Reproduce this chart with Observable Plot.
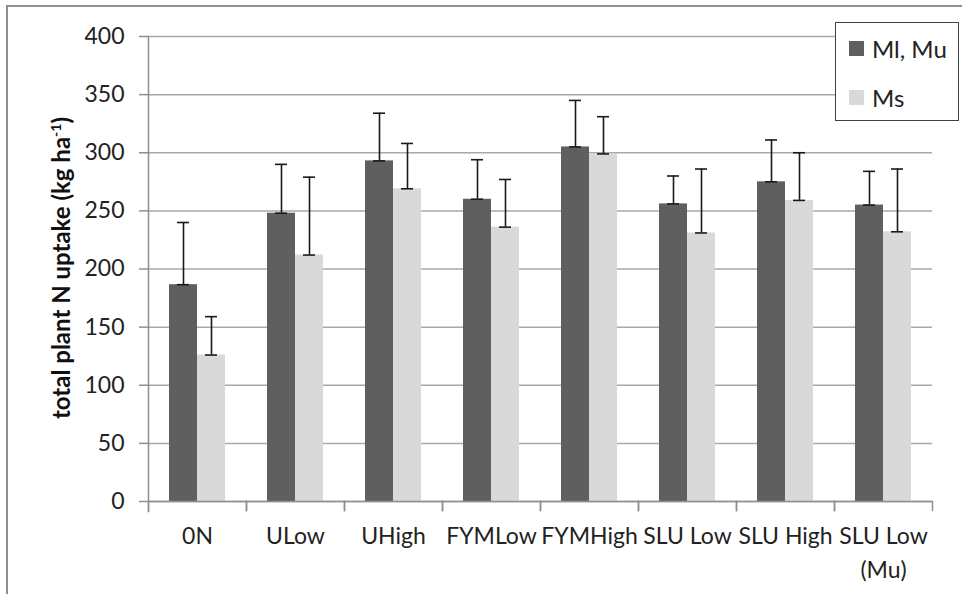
<!DOCTYPE html>
<html>
<head>
<meta charset="utf-8">
<script src="https://cdn.jsdelivr.net/npm/d3@7"></script>
<script src="https://cdn.jsdelivr.net/npm/@observablehq/plot@0.6"></script>
<style>
  body { margin: 0; background: #fff; }
  #wrap { position: relative; width: 962px; height: 594px; overflow: hidden; font-family: Lato, "Open Sans", sans-serif; background: #fff; }
  #border { position: absolute; left: 6px; top: 5px; width: 980px; height: 620px; border-left: 2px solid #8f8f8f; border-top: 2px solid #8f8f8f; pointer-events: none; }
  #chart { position: absolute; left: 0; top: 0; }
  #ylabel { position: absolute; left: 60px; top: 268px; transform: translate(-50%, -50%) rotate(-90deg); white-space: nowrap; font-weight: bold; font-size: 24px; color: #111; }
  #ylabel sup { font-size: 14px; vertical-align: 9px; }
  #legend { position: absolute; left: 835px; top: 22px; width: 122px; height: 97px; border: 1px solid #404040; background: #fff; }
  .item { position: absolute; left: 13px; display: flex; align-items: center; font-size: 24px; color: #222; }
  .sw { width: 15px; height: 15px; margin-right: 8px; }
</style>
</head>
<body>
<div id="wrap">
  <div id="chart"></div>
  <div id="border"></div>
  <div id="ylabel">total plant N uptake (kg ha<sup>-1</sup>)</div>
  <div id="legend"></div>
</div>
<script>
const categories = ["0N", "ULow", "UHigh", "FYMLow", "FYMHigh", "SLU Low", "SLU High", "SLU Low (Mu)"];
const tickLabels = ["0N", "ULow", "UHigh", "FYMLow", "FYMHigh", "SLU Low", "SLU High", "SLU Low\n(Mu)"];
const seriesNames = ["Ml, Mu", "Ms"];
const mlmuValues = [186.5, 248, 293, 260, 305, 256, 275, 255];
const mlmuErrors = [53.5, 42, 41, 34, 40, 24, 36, 29];
const msValues = [126, 212, 269, 236, 299, 231, 259, 232];
const msErrors = [33, 67, 39, 41, 32, 55, 41, 54];
const yTicks = [0, 50, 100, 150, 200, 250, 300, 350, 400];
const seriesColors = ["#5f5f5f", "#d9d9d9"];

const rows = categories.flatMap((c, i) => [
  {cat: c, series: seriesNames[0], value: mlmuValues[i], err: mlmuErrors[i]},
  {cat: c, series: seriesNames[1], value: msValues[i], err: msErrors[i]}
]);

const W = 962, H = 594, mL = 147, mR = 29, mT = 36, mB = 93;
const innerH = H - mT - mB;
const labelMap = new Map(categories.map((c, i) => [c, tickLabels[i]]));

const chart = Plot.plot({
  width: W, height: H,
  marginLeft: mL, marginRight: mR, marginTop: mT, marginBottom: mB,
  style: {fontFamily: "Lato, 'Open Sans', sans-serif", background: "transparent"},
  fx: {domain: categories, padding: 0, label: null, axis: null},
  x: {domain: seriesNames, paddingInner: 0, paddingOuter: 0.75, axis: null},
  y: {domain: [0, 400], label: null, axis: null},
  color: {domain: seriesNames, range: seriesColors},
  marks: [
    Plot.gridY(yTicks, {stroke: "#a8a8a8", strokeOpacity: 1, strokeWidth: 1.5}),
    Plot.barY(rows, {fx: "cat", x: "series", y: "value", fill: "series"}),
    Plot.ruleX(rows, {fx: "cat", x: "series", y1: "value", y2: d => d.value + d.err, stroke: "#1a1a1a", strokeWidth: 1.6}),
    Plot.tickY(rows, {fx: "cat", x: "series", y: d => d.value + d.err, stroke: "#1a1a1a", strokeWidth: 1.6, insetLeft: 8, insetRight: 8}),
    Plot.tickY(rows, {fx: "cat", x: "series", y: "value", stroke: "#1a1a1a", strokeWidth: 1.6, insetLeft: 8, insetRight: 8}),
    Plot.ruleY([0], {stroke: "#8f8f8f", strokeWidth: 1.5}),
    Plot.frame({anchor: "left", facetAnchor: "left", stroke: "#8f8f8f", strokeWidth: 1.5, insetBottom: -10}),
    Plot.frame({anchor: "left", stroke: "#8f8f8f", strokeWidth: 1.5, insetTop: innerH, insetBottom: -9}),
    Plot.frame({anchor: "right", stroke: "#8f8f8f", strokeWidth: 1.5, insetTop: innerH, insetBottom: -9}),
    Plot.axisY(yTicks, {anchor: "left", tickSize: 9, tickPadding: 15, fontSize: 23, stroke: "#8f8f8f", strokeWidth: 1.5, fill: "#222", label: null}),
    Plot.axisFx({anchor: "bottom", tickSize: 0, tickPadding: 19, fontSize: 23, fill: "#222", lineHeight: 1.45, label: null, tickFormat: d => labelMap.get(d)})
  ]
});
document.getElementById("chart").appendChild(chart);

const legend = document.getElementById("legend");
seriesNames.forEach((name, i) => {
  const item = document.createElement("div");
  item.className = "item";
  item.style.top = (i === 0 ? 11 : 60) + "px";
  const sw = document.createElement("div");
  sw.className = "sw";
  sw.style.background = seriesColors[i];
  const t = document.createElement("span");
  t.textContent = name;
  item.appendChild(sw);
  item.appendChild(t);
  legend.appendChild(item);
});
</script>
</body>
</html>
